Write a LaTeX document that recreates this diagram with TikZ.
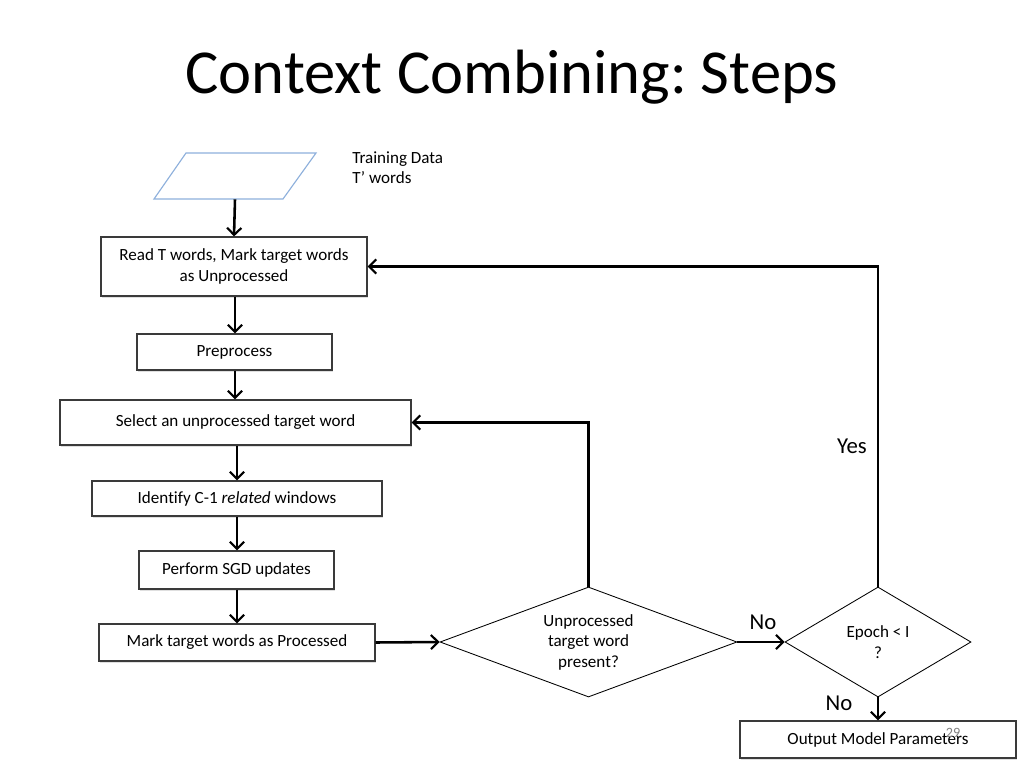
\documentclass[tikz,border=0pt]{standalone}
\usepackage{fontspec}
\setmainfont{Carlito}[Ligatures={NoCommon}]
\usetikzlibrary{arrows.meta,shapes.geometric,shadows}
\newcommand\pxu{0.703125pt}
\definecolor{boxline}{HTML}{3A3A3A}
\definecolor{datablue}{HTML}{8EB0DC}
\frenchspacing
\begin{document}
\begin{tikzpicture}[x=0.703125pt,y=-0.703125pt,
  stepbox/.style={draw=boxline, line width=0.8pt, fill=white, rectangle, inner sep=0pt, align=center,
    font=\fontsize{12}{14.4}\selectfont,
    drop shadow={shadow xshift=1pt, shadow yshift=-1.5pt, opacity=0.25}},
  decision/.style={draw=black, line width=0.6pt, fill=white, diamond, inner sep=0pt, align=center,
    font=\fontsize{12}{14.4}\selectfont},
  arr/.style={line width=1.8pt, -{Straight Barb[length=5pt,width=10pt,line width=1.5pt]}},
  biglabel/.style={font=\fontsize{16}{19}\selectfont, inner sep=0pt}
]
\useasboundingbox (0,0) rectangle (1024,768);
% title
\node[font=\fontsize{44}{52}\selectfont, inner sep=0pt] (title) at (512,77) {Context Combining: Steps};
% data parallelogram
\node[minimum width={130*\pxu}, minimum height={46*\pxu}, inner sep=0pt] (data) at (235,176) {};
\draw[datablue, line width=0.8pt, fill=white] (186,153) -- (316,153) -- (283,199) -- (154,199) -- cycle;
\node[anchor=north west, align=left, inner sep=0pt, font=\fontsize{12}{14.4}\selectfont] (datalbl) at (352,151) {Training Data\\T’ words};
% boxes
\node[stepbox, minimum width={266*\pxu}, minimum height={59*\pxu}] (b1) at (234,266.5) {Read T words, Mark target words\\as Unprocessed};
\node[stepbox, minimum width={195*\pxu}, minimum height={36*\pxu}] (b2) at (234.5,352) {Preprocess};
\node[stepbox, minimum width={351*\pxu}, minimum height={45*\pxu}] (b3) at (235.5,422.5) {Select an unprocessed target word};
\node[stepbox, minimum width={290*\pxu}, minimum height={35*\pxu}] (b4) at (237,498.5) {Identify C-1 \textit{related} windows};
\node[stepbox, minimum width={195*\pxu}, minimum height={38*\pxu}] (b5) at (236.5,570) {Perform SGD updates};
\node[stepbox, minimum width={276*\pxu}, minimum height={37*\pxu}] (b6) at (237,642.5) {Mark target words as Processed};
\node[stepbox, minimum width={276*\pxu}, minimum height={37*\pxu}] (b7) at (878,739.5) {Output Model Parameters};
% decisions
\node[decision, aspect=2.7, minimum width={297*\pxu}, minimum height={110*\pxu}] (d1) at (588.5,642) {Unprocessed\\target word\\present?};
\node[decision, aspect=1.69, minimum width={186*\pxu}, minimum height={110*\pxu}] (d2) at (878,642) {Epoch < I\\?};
% slide number
\node[text=gray, font=\fontsize{10}{12}\selectfont, inner sep=0pt] (num) at (953,733) {29};
% connectors
\draw[arr] (data.south) -- (b1.north);
\draw[arr] (b1.south -| 235,0) -- (b2.north -| 235,0);
\draw[arr] (b2.south -| 235,0) -- (b3.north -| 235,0);
\draw[arr] (b3.south -| 237,0) -- (b4.north -| 237,0);
\draw[arr] (b4.south -| 237,0) -- (b5.north -| 237,0);
\draw[arr] (b5.south -| 237,0) -- (b6.north -| 237,0);
\draw[arr] (b6.east) -- (d1.west);
\draw[arr] (d1.east) -- (d2.west);
\draw[arr] (d1.north) |- (b3.east);
\draw[arr] (d2.north) |- (b1.east);
\draw[arr] (d2.south) -- (b7.north);
% labels
\node[biglabel] (no1) at (763,622) {No};
\node[biglabel] (yes) at (852,446) {Yes};
\node[biglabel] (no2) at (839,703) {No};
\end{tikzpicture}
\end{document}
